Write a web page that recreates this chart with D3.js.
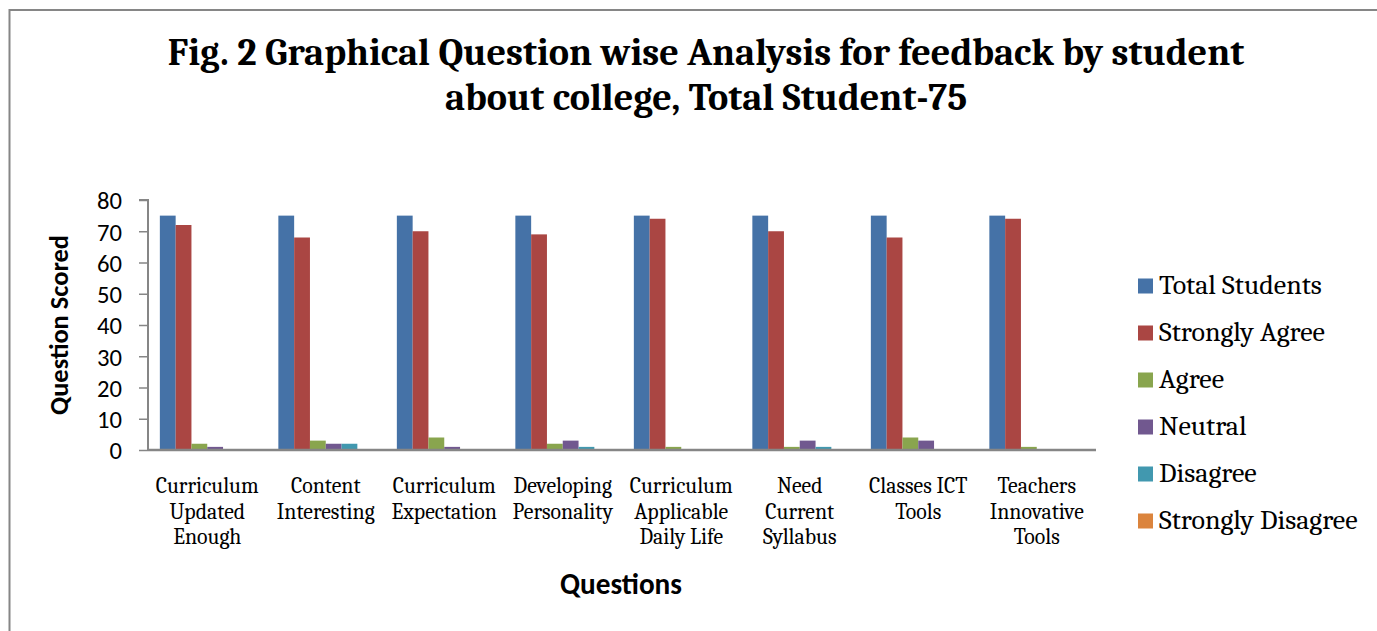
<!DOCTYPE html>
<html><head><meta charset="utf-8">
<script src="https://cdn.jsdelivr.net/npm/d3@7"></script>
<style>body{margin:0;background:#fff}svg{display:block}</style>
</head><body>
<svg id="c" width="1377" height="631"></svg>
<script>
const categories = [
  ["Curriculum","Updated","Enough"],
  ["Content","Interesting"],
  ["Curriculum","Expectation"],
  ["Developing","Personality"],
  ["Curriculum","Applicable","Daily Life"],
  ["Need","Current","Syllabus"],
  ["Classes ICT","Tools"],
  ["Teachers","Innovative","Tools"]
];
const seriesNames = ["Total Students","Strongly Agree","Agree","Neutral","Disagree","Strongly Disagree"];
const seriesColors = ["#4572A7","#AA4643","#89A54E","#71588F","#4198AF","#DB843D"];
const totalStudents   = [75,75,75,75,75,75,75,75];
const stronglyAgree   = [72,68,70,69,74,70,68,74];
const agree           = [2,3,4,2,1,1,4,1];
const neutral         = [1,2,1,3,0,3,3,0];
const disagree        = [0,2,0,1,0,1,0,0];
const stronglyDisagree= [0,0,0,0,0,0,0,0];
const yTicks = [0,10,20,30,40,50,60,70,80];
const titleLines = ["Fig. 2 Graphical Question wise Analysis for feedback by student","about college, Total Student-75"];

const series = [totalStudents,stronglyAgree,agree,neutral,disagree,stronglyDisagree];
const svg = d3.select("#c");
const serif = "Cambria, 'Liberation Serif', 'DejaVu Serif', serif";
const sans = "Calibri, Carlito, 'Open Sans', 'Liberation Sans', sans-serif";

function fit(sel, target){
  const n = sel.node(); const w = n.getComputedTextLength();
  const fs = parseFloat(sel.attr("font-size"));
  sel.attr("font-size", fs*target/w);
  return fs*target/w;
}

// frame
svg.append("path").attr("d","M9.5,631 L9.5,10 L1377,10").attr("fill","none").attr("stroke","#868686").attr("stroke-width",2);

// title
const t1 = svg.append("text").attr("x",706).attr("y",65).attr("text-anchor","middle")
  .attr("font-family",serif).attr("font-weight","bold").attr("font-size",36).attr("fill","#000").text(titleLines[0]);
const tfs = fit(t1, 1077);
svg.append("text").attr("x",706).attr("y",110).attr("text-anchor","middle")
  .attr("font-family",serif).attr("font-weight","bold").attr("font-size",tfs).attr("fill","#000").text(titleLines[1]);

const x0 = 148, x1 = 1096, yTop = 200, yBot = 450;
const x = d3.scaleBand().domain(d3.range(categories.length)).range([x0,x1]).paddingInner(0).paddingOuter(0);
const y = d3.scaleLinear().domain([0,80]).range([yBot,yTop]);
const bw = x.bandwidth();
const barW = bw/(6+1.5);
const xs = d3.scaleBand().domain(d3.range(6)).range([barW*0.75, barW*0.75+barW*6]);

// bars
const g = svg.append("g");
series.forEach((vals,si)=>{
  g.selectAll(null).data(vals).enter().append("rect")
    .attr("x",(d,i)=>x(i)+xs(si))
    .attr("y",d=>y(d))
    .attr("width",xs.bandwidth())
    .attr("height",d=>yBot-y(d))
    .attr("fill",seriesColors[si]);
});

// y axis
const yAxis = d3.axisLeft(y).tickValues(yTicks).tickSize(9).tickPadding(17);
const ya = svg.append("g").attr("transform",`translate(${x0},0)`).call(yAxis);
ya.select(".domain").attr("stroke","#868686").attr("stroke-width",2).attr("d",`M-9,${yTop}H0V${yBot}`);
ya.selectAll(".tick line").attr("stroke","#868686").attr("stroke-width",1.5);
ya.selectAll(".tick text").attr("font-family",sans).attr("font-size",20).attr("fill","#000").attr("dy","0.36em");
const probeT = ya.select(".tick:last-of-type text");
const tickFs = fit(probeT,25);
ya.selectAll(".tick text").attr("font-size",tickFs);

// x axis baseline
const xAxis = d3.axisBottom(x).tickSize(0).tickFormat("");
const xa = svg.append("g").attr("transform",`translate(0,${yBot})`).call(xAxis);
xa.select(".domain").attr("stroke","#868686").attr("stroke-width",2.5).attr("d",`M${x0},0H${x1}`);

// category labels
const catG = svg.append("g");
let cfs = 18;
const probe = catG.append("text").attr("font-family",serif).attr("font-size",18).text("Curriculum");
cfs = fit(probe,103); probe.remove();
categories.forEach((lines,i)=>{
  lines.forEach((ln,j)=>{
    catG.append("text").attr("x",x(i)+bw/2).attr("y",493+j*25.5).attr("text-anchor","middle")
      .attr("font-family",serif).attr("font-size",cfs).attr("fill","#000").text(ln);
  });
});

// axis titles
const yl = svg.append("text").attr("transform","translate(68,325) rotate(-90)").attr("text-anchor","middle")
  .attr("font-family",sans).attr("font-weight","bold").attr("font-size",20).attr("fill","#000").text("Question Scored");
fit(yl,180);
const xl = svg.append("text").attr("x",621).attr("y",594).attr("text-anchor","middle")
  .attr("font-family",sans).attr("font-weight","bold").attr("font-size",20).attr("fill","#000").text("Questions");
fit(xl,122);

// legend
const lg = svg.append("g");
let lfs = 22;
const lp = lg.append("text").attr("font-family",serif).attr("font-size",22).text("Total Students");
lfs = fit(lp,163); lp.remove();
seriesNames.forEach((n,i)=>{
  const cy = 286 + i*47;
  lg.append("rect").attr("x",1138).attr("y",cy-7.5).attr("width",15).attr("height",15).attr("fill",seriesColors[i]);
  lg.append("text").attr("x",1159).attr("y",cy+8).attr("font-family",serif).attr("font-size",lfs).attr("fill","#000").text(n);
});
</script>
</body></html>
